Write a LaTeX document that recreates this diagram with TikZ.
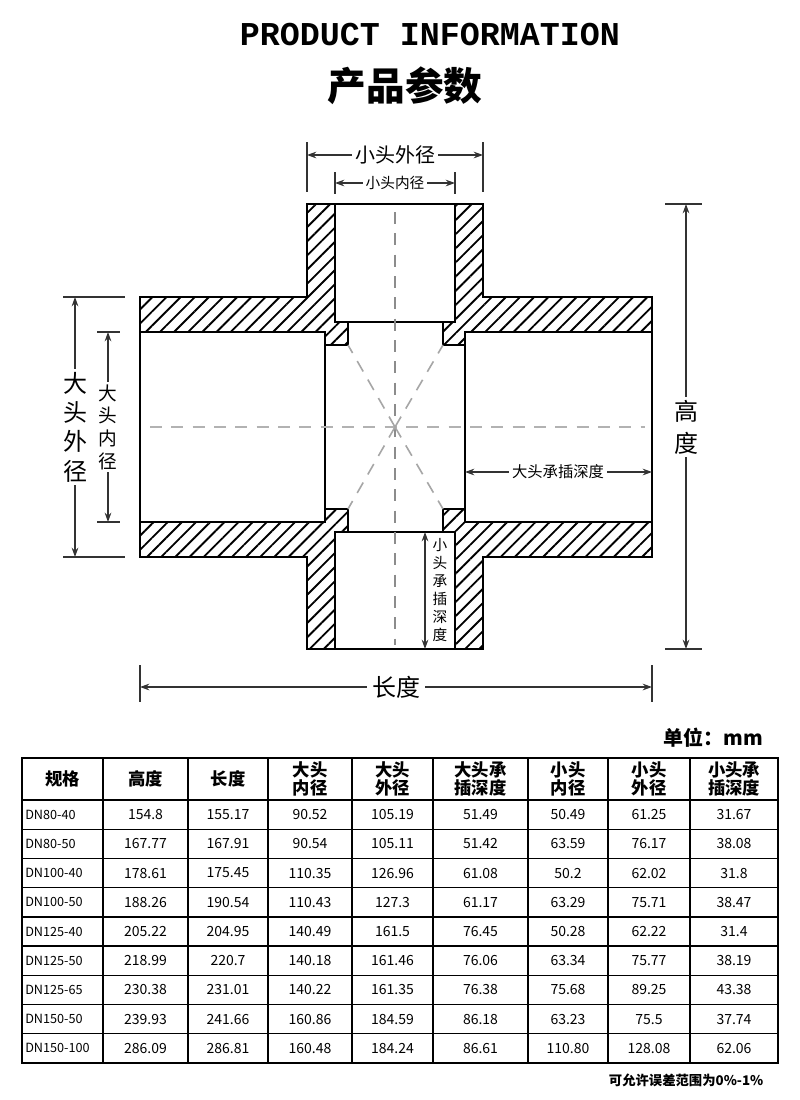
\documentclass[tikz,border=0pt]{standalone}
\usepackage{fontspec}
\setmainfont{Noto Sans CJK SC}
\newfontfamily\monob{Liberation Mono}
\usetikzlibrary{arrows.meta,patterns.meta}
\begin{document}
\begin{tikzpicture}[x=0.75pt,y=-0.75pt,
  wall/.style={pattern={Lines[angle=45,distance=7.5pt,line width=1.4pt]},draw=black,line width=1.6pt},
  bore/.style={fill=white,draw=black,line width=1.6pt},
  cline/.style={draw=gray!90,dash pattern=on 9pt off 7pt,line width=1.2pt},
  dimx/.style={{Stealth[length=7pt,width=5pt]}-{Stealth[length=7pt,width=5pt]},line width=0.9pt,draw=black!80},
  ext/.style={line width=0.9pt,draw=black!80},
  lab/.style={fill=white,inner sep=2pt,font=\fontsize{14}{15}\selectfont},
  cell/.style={font=\fontsize{10.5}{12}\selectfont,inner sep=0pt},
  hcell/.style={inner sep=0pt,align=center}]
\useasboundingbox (0,0) rectangle (800,1100);
% titles
\node (t1) at (430,35) {\monob\bfseries\fontsize{25}{25}\selectfont PRODUCT INFORMATION};
\node (t2) at (405,86) {\bfseries\fontsize{29}{30}\selectfont 产品参数};
% body
\path[wall] (307,204) -- (483,204) -- (483,297) -- (652,297) -- (652,557) -- (483,557) -- (483,649) -- (307,649) -- (307,557) -- (140,557) -- (140,297) -- (307,297) -- cycle;
\draw[bore] (335,204) rectangle (455,322);
\draw[bore] (335,532) rectangle (455,649);
\draw[bore] (140,332) rectangle (325,522);
\draw[bore] (465,332) rectangle (652,522);
\draw[bore] (348,322) -- (443,322) -- (443,345) -- (465,345) -- (465,509) -- (443,509) -- (443,532) -- (348,532) -- (348,509) -- (325,509) -- (325,345) -- (348,345) -- cycle;
\draw[line width=1.6pt] (307,204) -- (483,204) (307,649) -- (483,649) (140,297) -- (140,557) (652,297) -- (652,557);
% centre lines
\coordinate (c) at (395,427);
\draw[cline] (395,212) -- (395,645);
\draw[cline,draw=gray!60] (150,427) -- (645,427);
\draw[cline,draw=gray!70] (c) -- (348,345) (c) -- (443,345) (c) -- (348,509) (c) -- (443,509);
% top dims
\draw[ext] (307,142) -- (307,192) (483,142) -- (483,192) (335,172) -- (335,194) (455,172) -- (455,194);
\draw[dimx] (307,155) -- (483,155);
\node[lab,font=\fontsize{15}{16}\selectfont] (d1) at (395,155) {小头外径};
\draw[dimx] (335,183) -- (455,183);
\node[lab,font=\fontsize{11}{12}\selectfont] (d2) at (395,183) {小头内径};
% left dims
\draw[ext] (63,297) -- (125,297) (63,557) -- (125,557) (97,332) -- (120,332) (97,522) -- (120,522);
\draw[dimx] (75,297) -- (75,557);
\node[lab,align=center,font=\fontsize{18}{22}\selectfont] (d3) at (75,427) {大\\头\\外\\径};
\draw[dimx] (108,332) -- (108,522);
\node[lab,align=center,font=\fontsize{14}{17}\selectfont] (d4) at (108,427) {大\\头\\内\\径};
% right dims
\draw[ext] (665,204) -- (702,204) (665,649) -- (702,649);
\draw[dimx] (686,204) -- (686,649);
\node[lab,align=center,font=\fontsize{18}{24}\selectfont] (d5) at (686,427) {高\\度};
\draw[dimx] (465,472) -- (652,472);
\node[lab,font=\fontsize{11.5}{12}\selectfont] (d6) at (558,472) {大头承插深度};
\draw[dimx] (425,532) -- (425,649);
\node[lab,align=center,font=\fontsize{11}{13.5}\selectfont] (d7) at (440,590) {小\\头\\承\\插\\深\\度};
% bottom dim
\draw[ext] (140,665) -- (140,702) (652,665) -- (652,702);
\draw[dimx] (140,687) -- (652,687);
\node[lab,font=\fontsize{18}{20}\selectfont,inner sep=4pt] (d8) at (396,687) {长度};
% unit
\node[anchor=east] (u) at (768,738) {\bfseries\fontsize{15}{16}\selectfont 单位：mm};
% table
\def\xs{{22,103,188,268,352,433,528,608,690,778}}
\draw[line width=1pt] (22,758) rectangle (778,1063);
\foreach \x in {103,188,268,352,433,528,608,690} \draw[line width=1pt] (\x,758) -- (\x,1063);
\draw[line width=1pt] (22,800) -- (778,800);
\foreach \i in {1,...,8} \draw[line width=1pt] (22,800+29.22*\i) -- (778,800+29.22*\i);
\foreach \t [count=\k] in {规格,高度,长度,{大头\\内径},{大头\\外径},{大头承\\插深度},{小头\\内径},{小头\\外径},{小头承\\插深度}}{
  \pgfmathsetmacro\xa{\xs[\k-1]}\pgfmathsetmacro\xb{\xs[\k]}
  \node[hcell,font=\bfseries\fontsize{13}{11.5}\selectfont] (h\k) at ({(\xa+\xb)/2},779) {\t};}
\foreach \r [count=\j] in {
 {DN80-40,154.8,155.17,90.52,105.19,51.49,50.49,61.25,31.67},
 {DN80-50,167.77,167.91,90.54,105.11,51.42,63.59,76.17,38.08},
 {DN100-40,178.61,175.45,110.35,126.96,61.08,50.2,62.02,31.8},
 {DN100-50,188.26,190.54,110.43,127.3,61.17,63.29,75.71,38.47},
 {DN125-40,205.22,204.95,140.49,161.5,76.45,50.28,62.22,31.4},
 {DN125-50,218.99,220.7,140.18,161.46,76.06,63.34,75.77,38.19},
 {DN125-65,230.38,231.01,140.22,161.35,76.38,75.68,89.25,43.38},
 {DN150-50,239.93,241.66,160.86,184.59,86.18,63.23,75.5,37.74},
 {DN150-100,286.09,286.81,160.48,184.24,86.61,110.80,128.08,62.06}}{
  \foreach \v [count=\k] in \r {
    \pgfmathsetmacro\xa{\xs[\k-1]}\pgfmathsetmacro\xb{\xs[\k]}
    \ifnum\k=1
      \node[cell,anchor=west,font=\fontsize{9.5}{12}\selectfont] (c\j-\k) at ({\xa+3},{800+29.22*(\j-0.5)}) {\v};
    \else
      \node[cell] (c\j-\k) at ({(\xa+\xb)/2},{800+29.22*(\j-0.5)}) {\v};
    \fi}}
\node[anchor=east] (f) at (768,1080) {\bfseries\fontsize{10}{11}\selectfont 可允许误差范围为0\%-1\%};
\end{tikzpicture}
\end{document}
